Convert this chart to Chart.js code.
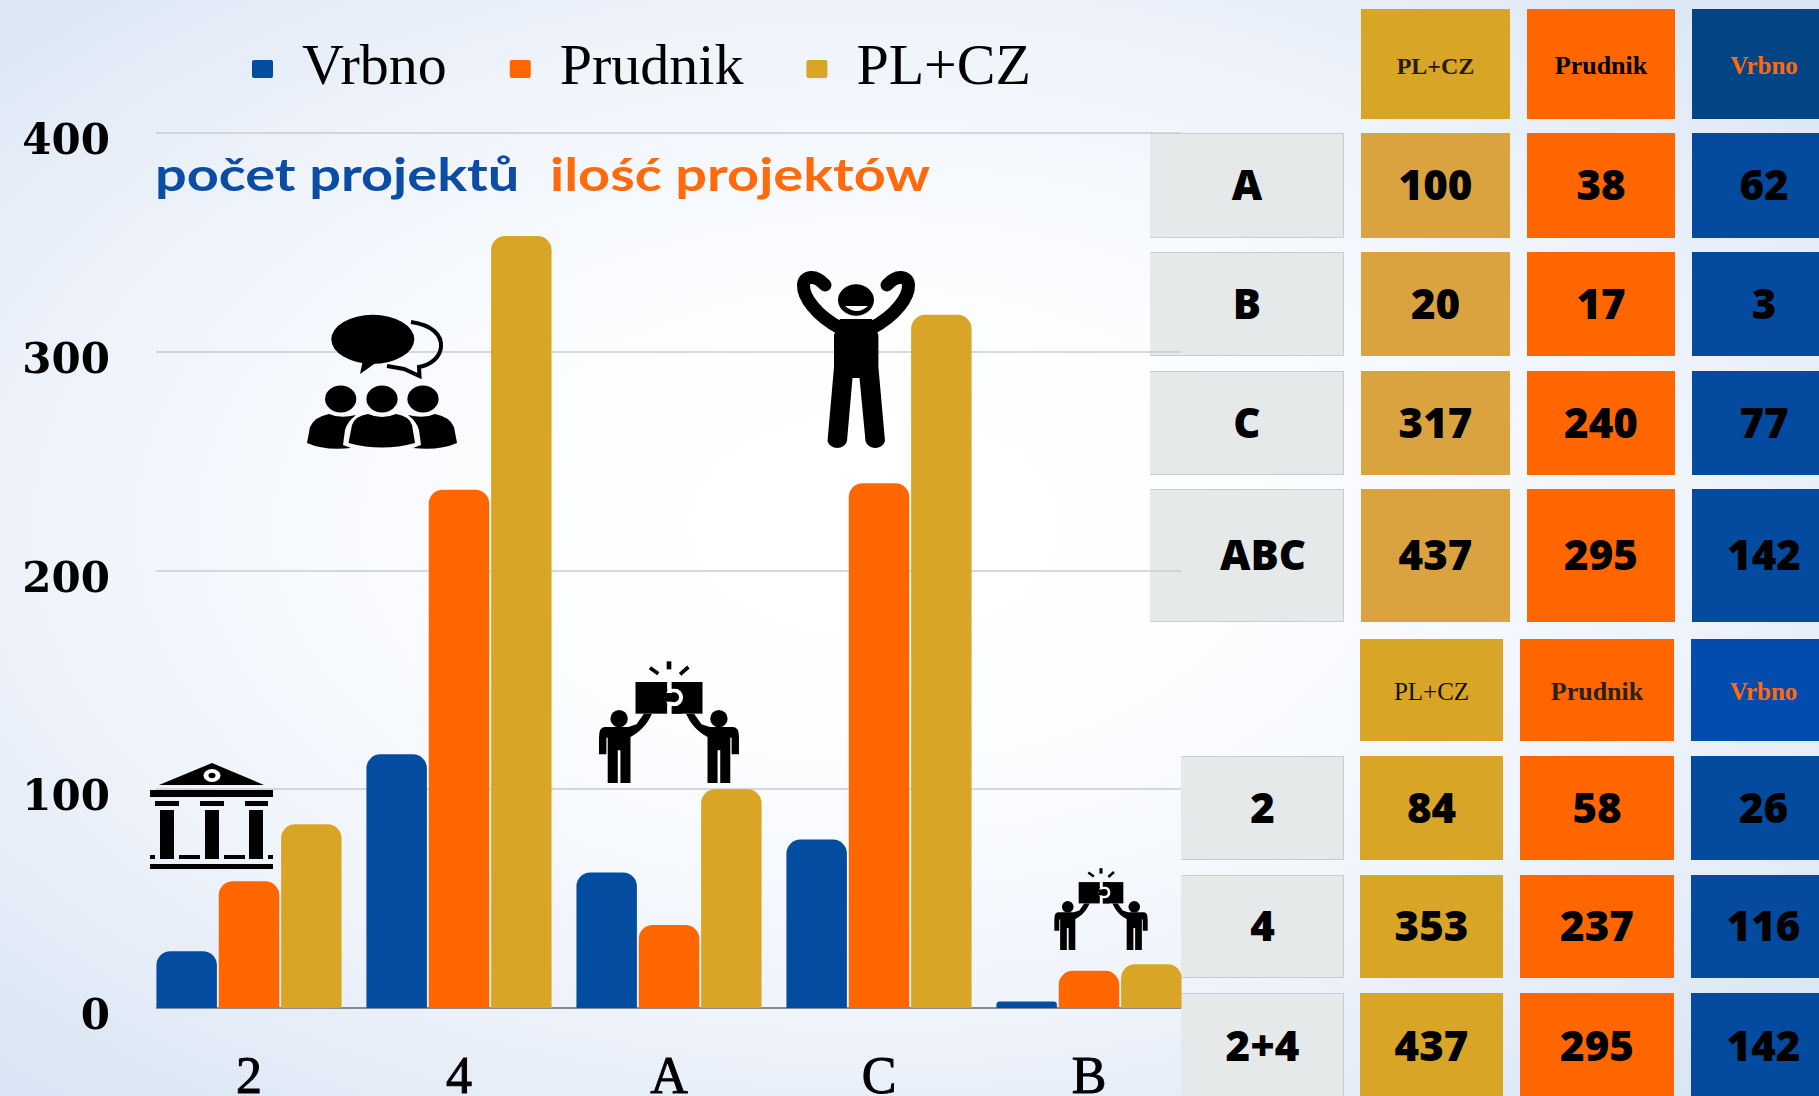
<!DOCTYPE html>
<html lang="pl">
<head>
<meta charset="utf-8">
<title>Vrbno Prudnik PL+CZ</title>
<script src="https://cdn.jsdelivr.net/npm/chart.js@4"></script>
<style>
html,body{margin:0;padding:0;width:1819px;height:1096px;overflow:hidden}
body{position:relative;background:radial-gradient(farthest-corner at 48% 48%,#ffffff 0%,#fdfeff 25%,#f0f4fb 60%,#dce7f5 90%,#d7e4f4 100%)}
canvas{position:absolute;left:0;top:0;z-index:2}
.cell{position:absolute;z-index:1;display:flex;align-items:center;justify-content:center;box-sizing:border-box;font-family:"Open Sans",sans-serif;font-weight:800;font-size:42px;color:#000;padding-bottom:4px}
.lab{background:#e6e9ea;border:1px solid #c9ccd1;border-left-color:#e6e9ea}
.hd{font-family:"Liberation Serif",serif;font-weight:700;font-size:26px;padding-bottom:0;padding-top:4px}
.caption{position:absolute;z-index:3;top:145px;font-family:Lato,sans-serif;font-weight:700;font-size:46px;line-height:58px;white-space:nowrap;transform:scaleX(1.215);transform-origin:0 50%}
svg{position:absolute;left:0;top:0;z-index:3}
</style>
</head>
<body>
<canvas id="c" width="1819" height="1096"></canvas>
<div class="caption" style="left:155px;color:#0b4ca5">počet projektů</div>
<div class="caption" style="left:550px;color:#ff6a0d">ilość projektów</div>
<svg width="1819" height="1096" viewBox="0 0 1819 1096" aria-hidden="true">
<defs>
<symbol id="puzzle" viewBox="22 32 430 366" preserveAspectRatio="none">
<path d="M180 52L205 70M295 50L270 72" stroke="#000" stroke-width="11" fill="none"/>
<rect x="230" y="33" width="14" height="24"/>
<rect x="137" y="95" width="95" height="95"/>
<rect x="245" y="95" width="92" height="95"/>
<circle cx="252" cy="141" r="27" fill="#fff"/>
<rect x="232" y="95" width="13" height="22" fill="#fff"/>
<rect x="232" y="165" width="13" height="25" fill="#fff"/>
<rect x="245" y="95" width="30" height="20"/>
<rect x="245" y="168" width="30" height="22"/>
<circle cx="252" cy="141" r="15"/>
<rect x="225" y="128" width="27" height="26"/>
<g>
<circle cx="88" cy="205" r="26"/>
<path d="M45 230H115L140 222L162 190H186C172 222 150 245 122 260V398H92V300H84V398H54V262H50V312H28V262Q28 230 45 230Z"/>
</g>
<g transform="translate(474,0) scale(-1,1)">
<circle cx="88" cy="205" r="26"/>
<path d="M45 230H115L140 222L162 190H186C172 222 150 245 122 260V398H92V300H84V398H54V262H50V312H28V262Q28 230 45 230Z"/>
</g>
</symbol>
</defs>
<g>
<path d="M212 763L264 785H159Z"/>
<ellipse cx="212" cy="775.5" rx="8.5" ry="6.5" fill="#fff"/>
<ellipse cx="212" cy="775.5" rx="3.5" ry="2.8"/>
<rect x="150" y="790" width="123" height="7"/>
<rect x="155" y="801" width="24" height="5"/><rect x="200" y="801" width="24" height="5"/><rect x="245" y="801" width="23" height="5"/>
<rect x="160" y="810" width="14" height="49"/><rect x="205" y="810" width="14" height="49"/><rect x="249" y="810" width="14" height="49"/>
<rect x="150" y="855" width="5" height="4"/><rect x="179" y="855" width="21" height="4"/><rect x="224" y="855" width="21" height="4"/><rect x="268" y="855" width="5" height="4"/>
<rect x="150" y="864" width="123" height="5"/>
</g>
<g>
<ellipse cx="372.8" cy="339.3" rx="41.5" ry="24.5"/>
<path d="M363 360L360 374L377 362Z"/>
<path d="M411 322C432 325 442 335 441 347C440 358 430 365 419 367L419.5 376L404 369L387 366" fill="none" stroke="#000" stroke-width="4"/>
<ellipse cx="340.7" cy="399" rx="15.6" ry="13.4"/>
<ellipse cx="382" cy="399" rx="15.6" ry="13.4"/>
<ellipse cx="423" cy="399" rx="15.6" ry="13.4"/>
<path d="M348.5 443L352 425Q355 416 368 414Q382 420 396 414Q409 416 412 425L415 443Q382 452 348.5 443Z"/>
<path d="M307 443L310 427Q314 417 329 414Q340 419 356 415Q347 422 345 430L343 445L351 448Q325 451 307 443Z"/>
<path transform="translate(764,0) scale(-1,1)" d="M307 443L310 427Q314 417 329 414Q340 419 356 415Q347 422 345 430L343 445L351 448Q325 451 307 443Z"/>
</g>
<g>
<ellipse cx="856" cy="300" rx="18" ry="15.7"/>
<path d="M845 306H868Q857 316 845 306Z" fill="#fff"/>
<path d="M834 335V367L827.5 441A10 9 0 0 0 847 441L852.5 378H859.5L865.5 441A10 9 0 0 0 885 441L878.4 367V335L872 319H840Z"/>
<path d="M840 328C816 315 803 297 803.5 285C804 276 815 274 825 285" fill="none" stroke="#000" stroke-width="13" stroke-linecap="round"/>
<path d="M872 328C896 315 909 297 908.5 285C908 276 897 274 887 285" fill="none" stroke="#000" stroke-width="13" stroke-linecap="round"/>
</g>
<use href="#puzzle" x="597" y="661" width="144" height="122"/>
<use href="#puzzle" x="1053" y="868" width="96" height="82"/>
</svg>
<script>
// Chart values
const categories = ['2', '4', 'A', 'C', 'B'];
const vrbno = [26, 116, 62, 77, 3];
const prudnik = [58, 237, 38, 240, 17];
const plcz = [84, 353, 100, 317, 20];
const yTickStep = 100;
const yMax = 400;

// Table values
const headerLabels = ['PL+CZ', 'Prudnik', 'Vrbno'];
const topRowLabels = ['A', 'B', 'C', 'ABC'];
const topPlcz = [100, 20, 317, 437];
const topPrudnik = [38, 17, 240, 295];
const topVrbno = [62, 3, 77, 142];
const bottomRowLabels = ['2', '4', '2+4'];
const bottomPlcz = [84, 353, 437];
const bottomPrudnik = [58, 237, 295];
const bottomVrbno = [26, 116, 142];

function addCell(box, text, cls, style) {
  const d = document.createElement('div');
  d.className = 'cell ' + cls;
  d.textContent = text;
  d.style.left = box[0] + 'px';
  d.style.width = (box[1] - box[0]) + 'px';
  d.style.top = box[2] + 'px';
  d.style.height = (box[3] - box[2]) + 'px';
  Object.assign(d.style, style || {});
  document.body.appendChild(d);
}
function buildTable(t) {
  t.header.forEach((label, i) => addCell([t.cols[i][0], t.cols[i][1], t.headRow[0], t.headRow[1]], label, 'hd', t.headStyle[i]));
  t.labels.forEach((label, r) => {
    const row = t.rows[r];
    addCell([t.labCol[0], t.labCol[1], row[0], row[1]], label, 'lab', t.labStyle[r] || {});
    t.values.forEach((vals, c) => addCell([t.cols[c][0], t.cols[c][1], row[0], row[1]], vals[r], '', {background: t.fills[c]}));
  });
}
buildTable({
  header: headerLabels, labels: topRowLabels, values: [topPlcz, topPrudnik, topVrbno],
  cols: [[1361, 1510], [1527, 1675], [1692, 1836]],
  labCol: [1150, 1344],
  headRow: [9, 119],
  rows: [[133, 238], [252, 356], [371, 475], [489, 622]],
  fills: ['#dba33f', '#ff6600', '#044a9e'],
  labStyle: {3: {paddingLeft: '32px'}},
  headStyle: [
    {background: '#d9a526', color: '#2a1a15', fontSize: '24px'},
    {background: '#ff6600', color: '#000'},
    {background: '#034584', color: '#ff6a0d', fontSize: '25px'}
  ]
});
buildTable({
  header: headerLabels, labels: bottomRowLabels, values: [bottomPlcz, bottomPrudnik, bottomVrbno],
  cols: [[1360, 1503], [1520, 1674], [1691, 1836]],
  labCol: [1181, 1344],
  headRow: [639, 741],
  rows: [[756, 860], [875, 978], [993, 1100]],
  fills: ['#d9a526', '#ff6600', '#044a9e'],
  labStyle: {},
  headStyle: [
    {background: '#d9a526', color: '#111', fontWeight: 400, fontSize: '25px'},
    {background: '#ff6600', color: '#2a2015'},
    {background: '#034cad', color: '#ff6a0d', fontSize: '25px'}
  ]
});

const gridSpan = {left: 156, right: 1181};
const gridPlugin = {
  id: 'spanGrid',
  beforeLayout(chart) {
    chart.legend.isHorizontal = () => true;
  },
  afterLayout(chart) {
    const lg = chart.legend;
    lg.left = 252 - lg.options.labels.padding;
    lg.right = 1200;
    lg.top = 40 - lg.options.labels.padding;
  },
  beforeDatasetsDraw(chart) {
    const y = chart.scales.y, ctx = chart.ctx;
    ctx.save();
    y.ticks.forEach(t => {
      const p = Math.round(y.getPixelForValue(t.value));
      ctx.strokeStyle = t.value === 0 ? '#858b93' : '#c9ccd0';
      ctx.lineWidth = t.value === 0 ? 2 : 1.5;
      ctx.beginPath();
      ctx.moveTo(gridSpan.left, p);
      ctx.lineTo(gridSpan.right, p);
      ctx.stroke();
    });
    ctx.restore();
  }
};

new Chart(document.getElementById('c'), {
  type: 'bar',
  data: {
    labels: categories,
    datasets: [
      {label: 'Vrbno', data: vrbno, backgroundColor: '#044ca0'},
      {label: 'Prudnik', data: prudnik, backgroundColor: '#ff6600'},
      {label: 'PL+CZ', data: plcz, backgroundColor: '#d9a526'}
    ]
  },
  plugins: [gridPlugin],
  options: {
    responsive: false,
    animation: false,
    layout: {padding: {left: 0, right: 625, top: 133.3, bottom: 0}},
    datasets: {bar: {categoryPercentage: 187 / 210, barPercentage: 0.97, borderRadius: {topLeft: 14, topRight: 14}, borderSkipped: 'bottom'}},
    plugins: {
      tooltip: {enabled: false},
      legend: {
        position: 'chartArea', align: 'start',
        labels: {
          boxWidth: 21, boxHeight: 18, padding: 63, color: '#000',
          useBorderRadius: true, borderRadius: 2,
          font: {family: '"Liberation Serif", serif', size: 58}
        }
      }
    },
    scales: {
      x: {
        offset: true,
        grid: {display: false, drawTicks: false},
        border: {display: false},
        afterFit(s) { s.height = 88; },
        ticks: {
          autoSkip: false, maxRotation: 0, minRotation: 0, padding: 40, color: '#000',
          textStrokeColor: '#000', textStrokeWidth: 1,
          font: {family: '"Liberation Serif", serif', size: 52}
        }
      },
      y: {
        min: 0, max: yMax,
        grid: {display: false, drawTicks: false},
        border: {display: false},
        afterFit(s) { s.width = 144; },
        ticks: {
          stepSize: yTickStep, padding: 34, labelOffset: 10, color: '#000',
          font: {family: '"DejaVu Serif", serif', size: 42, weight: 'bold'}
        }
      }
    }
  }
});
</script>
</body>
</html>
